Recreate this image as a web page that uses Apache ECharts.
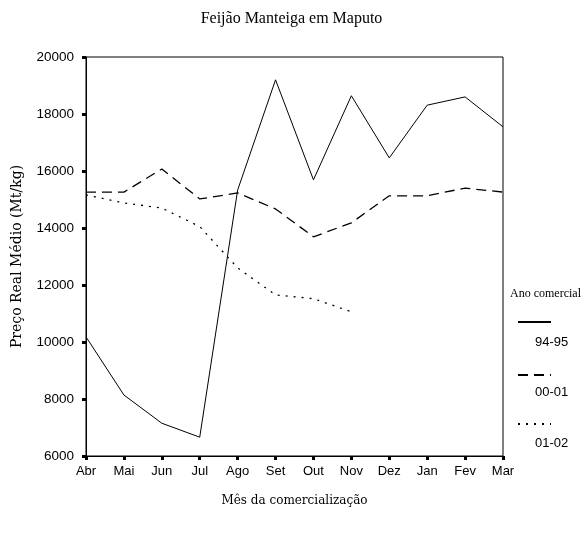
<!DOCTYPE html>
<html>
<head>
<meta charset="utf-8">
<script src="https://cdn.jsdelivr.net/npm/echarts@6/dist/echarts.min.js"></script>
<style>
  html, body { margin: 0; padding: 0; background: #fff; }
  #chart { width: 583px; height: 535px; }
</style>
</head>
<body>
<div id="chart"></div>
<script>
const months = ["Abr", "Mai", "Jun", "Jul", "Ago", "Set", "Out", "Nov", "Dez", "Jan", "Fev", "Mar"];
const seriesNames = ["94-95", "00-01", "01-02"];
const ano9495 = [10180, 8140, 7150, 6660, 15330, 19200, 15690, 18640, 16460, 18310, 18600, 17550];
const ano0001 = [15260, 15260, 16070, 15020, 15230, 14670, 13690, 14180, 15130, 15130, 15400, 15260];
const ano0102 = [15160, 14880, 14700, 14050, 12600, 11650, 11520, 11060, null, null, null, null];

const serif = "'Liberation Serif', 'DejaVu Serif', serif";
const wideSerif = "'DejaVu Serif', serif";
const sans = "'Liberation Sans', Arial, sans-serif";

const legendBox = (name, top) => ({
  data: [name],
  orient: "vertical",
  left: 512,
  top: top,
  itemWidth: 33,
  itemHeight: 8,
  formatter: () => "",
  selectedMode: false,
  itemStyle: { opacity: 0 },
  textStyle: { fontSize: 1 }
});

const chart = echarts.init(document.getElementById("chart"));
chart.setOption({
  animation: false,
  backgroundColor: "#fff",
  title: {
    text: "Feijão Manteiga em Maputo",
    left: "center",
    top: 6,
    textStyle: { fontFamily: serif, fontSize: 16, fontWeight: "normal", color: "#000" }
  },
  legend: [legendBox("94-95", 313), legendBox("00-01", 366), legendBox("01-02", 415)],
  graphic: [
    { type: "text", left: 510, top: 288, style: { text: "Ano comercial", fontFamily: serif, fontSize: 12, fill: "#000" } },
    { type: "text", left: 535, top: 336, style: { text: "94-95", fontFamily: sans, fontSize: 13, fill: "#000" } },
    { type: "text", left: 535, top: 386, style: { text: "00-01", fontFamily: sans, fontSize: 13, fill: "#000" } },
    { type: "text", left: 535, top: 437, style: { text: "01-02", fontFamily: sans, fontSize: 13, fill: "#000" } }
  ],
  grid: {
    left: 86, right: 80, top: 57, bottom: 79,
    show: true, borderColor: "#000", borderWidth: 1, backgroundColor: "transparent"
  },
  xAxis: {
    type: "category",
    data: months,
    boundaryGap: false,
    name: "Mês da comercialização",
    nameLocation: "middle",
    nameGap: 39,
    nameTextStyle: { fontFamily: wideSerif, fontSize: 12, color: "#000" },
    axisLine: { lineStyle: { color: "#000", width: 1 } },
    axisTick: { show: true, length: 4, lineStyle: { color: "#000", width: 3 } },
    axisLabel: { fontFamily: sans, fontSize: 13, color: "#000", margin: 9 },
    splitLine: { show: false }
  },
  yAxis: {
    type: "value",
    min: 6000,
    max: 20000,
    interval: 2000,
    name: "Preço Real Médio (Mt/kg)",
    nameLocation: "middle",
    nameGap: 62,
    nameTextStyle: { fontFamily: wideSerif, fontSize: 14, color: "#000" },
    axisLine: { show: true, lineStyle: { color: "#000", width: 1 } },
    axisTick: { show: true, length: 4, lineStyle: { color: "#000", width: 3 } },
    axisLabel: { fontFamily: sans, fontSize: 13.5, color: "#000", margin: 12, formatter: v => String(v) },
    splitLine: { show: false }
  },
  series: [
    {
      name: seriesNames[0], type: "line", data: ano9495,
      symbol: "none", lineStyle: { color: "#000", width: 1, type: "solid" },
      itemStyle: { color: "#000" }
    },
    {
      name: seriesNames[1], type: "line", data: ano0001,
      symbol: "none", lineStyle: { color: "#000", width: 1.3, type: [10, 6] },
      itemStyle: { color: "#000" }
    },
    {
      name: seriesNames[2], type: "line", data: ano0102,
      symbol: "none", lineStyle: { color: "#000", width: 1.3, type: [2, 6] },
      itemStyle: { color: "#000" }
    }
  ]
});
</script>
</body>
</html>
